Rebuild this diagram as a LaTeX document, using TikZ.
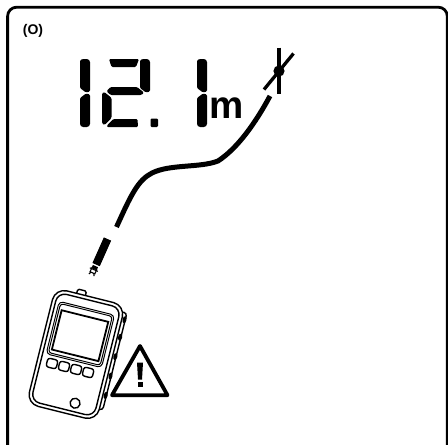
\documentclass[tikz,border=0pt]{standalone}
\usepackage{fontspec}
\setmainfont{Liberation Sans}
\begin{document}
\begin{tikzpicture}[x=1pt,y=-1pt,
  frameline/.style={line width=2.8pt, rounded corners=9pt},
  lcdseg/.style={fill=black, rounded corners=1.2pt},
  cable/.style={line width=5pt},
  hairline/.style={line width=3.3pt},
  devline/.style={line width=1.4pt, line join=round},
  thinline/.style={line width=1pt},
  warn/.style={line width=3.8pt, line join=round},
  % segments of one LCD digit cell, 48 wide and 68 high
  lcd-a/.pic={\fill[lcdseg] (7,0) -- (37,0) -- (34,8) -- (9.5,8) -- cycle;},
  lcd-b/.pic={\fill[lcdseg] (38,1) -- (41,0) -- (46,0) -- (48,2) -- (48,32.5) -- (44,33.5) -- (38,29) -- cycle;},
  lcd-c/.pic={\fill[lcdseg] (38,39) -- (44,34.5) -- (48,35.5) -- (48,66) -- (46,68) -- (40,68) -- (38,66) -- cycle;},
  lcd-g/.pic={\fill[lcdseg] (4.5,32) -- (8.5,28) -- (35,28) -- (42,33.5) -- (39.5,36) -- (8.5,36) -- cycle;},
  lcd-e/.pic={\fill[lcdseg] (0,34.5) -- (2,32.8) -- (9.5,38.8) -- (9.5,59) -- (2.5,66) -- (0,64.5) -- cycle;},
  lcd-d/.pic={\fill[lcdseg] (5,68) -- (5,66.5) -- (11.3,60) -- (35.5,60) -- (36,68) -- cycle;},
]
\useasboundingbox (0,0) rectangle (448,445);

% outer frame, open at the bottom edge
\begin{scope}
  \clip (0,0) rectangle (448,445);
  \draw[frameline] (7.6,7.2) rectangle (447.3,470);
\end{scope}

% mode tag
\node[font=\bfseries\fontsize{14}{15}\selectfont, inner sep=0] (tag) at (33,30.6) {(O)};

% seven-segment reading "12.1"
\pic at (42,59) {lcd-b};
\pic at (42,59) {lcd-c};
\pic at (102,59) {lcd-a};
\pic at (102,59) {lcd-b};
\pic at (102,59) {lcd-g};
\pic at (102,59) {lcd-e};
\pic at (102,59) {lcd-d};
\fill[lcdseg] (150.5,118.5) rectangle (158,127);
\pic at (159,59) {lcd-b};
\pic at (159,59) {lcd-c};

% unit
\node[font=\bfseries\fontsize{38.5}{40}\selectfont, inner sep=0, anchor=base west] (unit) at (209.3,118) {m};

% fault marker at the cable end
\coordinate (fault) at (279,71);
\coordinate (vtop) at (279,47.5);
\coordinate (vbot) at (279,93.5);
\coordinate (dtop) at (293.5,53.5);
\coordinate (dbot) at (264,89.5);
\draw[hairline] (vtop) -- (vbot);
\draw[hairline] (dtop) -- (dbot);
\fill (fault) circle (5.6);

% cable
\coordinate (cabletop) at (270,96);
\coordinate (cablebot) at (116.5,227);
\draw[cable] (cabletop) .. controls (256,122) and (238,148) .. (218,161)
  .. controls (200,168) and (170,164) .. (152,173)
  .. controls (138,180) and (131,195) .. (cablebot);

% plug
\begin{scope}[shift={(107.5,239)}, rotate=-24]
  \fill (-4,0) rectangle (4,28);
  \fill (-2.8,29.6) rectangle (2.8,32.5);
  \draw[line width=1.1pt, fill=white] (-2.6,32.5) rectangle (2.6,37);
  \draw[line width=1.1pt] (-4.4,33.5) -- (4.4,33.5);
  \draw[line width=1.1pt] (-1.6,37) -- (-2.8,39.5);
  \draw[line width=1.1pt] (1.6,37) -- (2.8,39.5);
\end{scope}

% hand-held meter
\begin{scope}[shift={(76,354)}, rotate=-14]
  % top port
  \draw[devline, fill=white, rounded corners=1.5pt] (-14,-63.5) rectangle (-5,-57);
  % side grip rail
  \draw[devline, fill=white, rounded corners=3pt] (33,-52) rectangle (39.5,48);
  \foreach \gy in {-45,-27,-7,13,33} {
    \fill (38.8,\gy) ellipse (2 and 3.6);
  }
  % housing
  \draw[devline, fill=white, rounded corners=12pt] (-36,-59) rectangle (36,60);
  \draw[devline, rounded corners=9pt] (-32.5,-55.5) rectangle (32.5,56.5);
  % screen surround and display
  \draw[thinline, rounded corners=4pt] (-29,-47) rectangle (28,7);
  \draw[thinline, rounded corners=3pt] (-27.2,-45.2) rectangle (26.2,5.2);
  \draw[line width=1.8pt] (-24.5,-39) rectangle (23.5,1.5);
  % keys
  \foreach \kx in {-21,-8.6,3.8,16.2} {
    \draw[devline, rounded corners=2.5pt] (\kx-5.2,10.5) rectangle (\kx+5.2,19.5);
  }
  % round key
  \draw[devline] (11,48) circle (5);
\end{scope}

% warning sign
\coordinate (wa) at (140,346);
\coordinate (wl) at (112,395.2);
\coordinate (wr) at (167.5,395.2);
\draw[warn] (wa) -- (wl) -- (wr) -- cycle;
\fill (137,362.5) -- (143,362.5) -- (142,379.5) -- (138,379.5) -- cycle;
\fill (137.5,382.3) rectangle (142.5,387.3);
\end{tikzpicture}
\end{document}
